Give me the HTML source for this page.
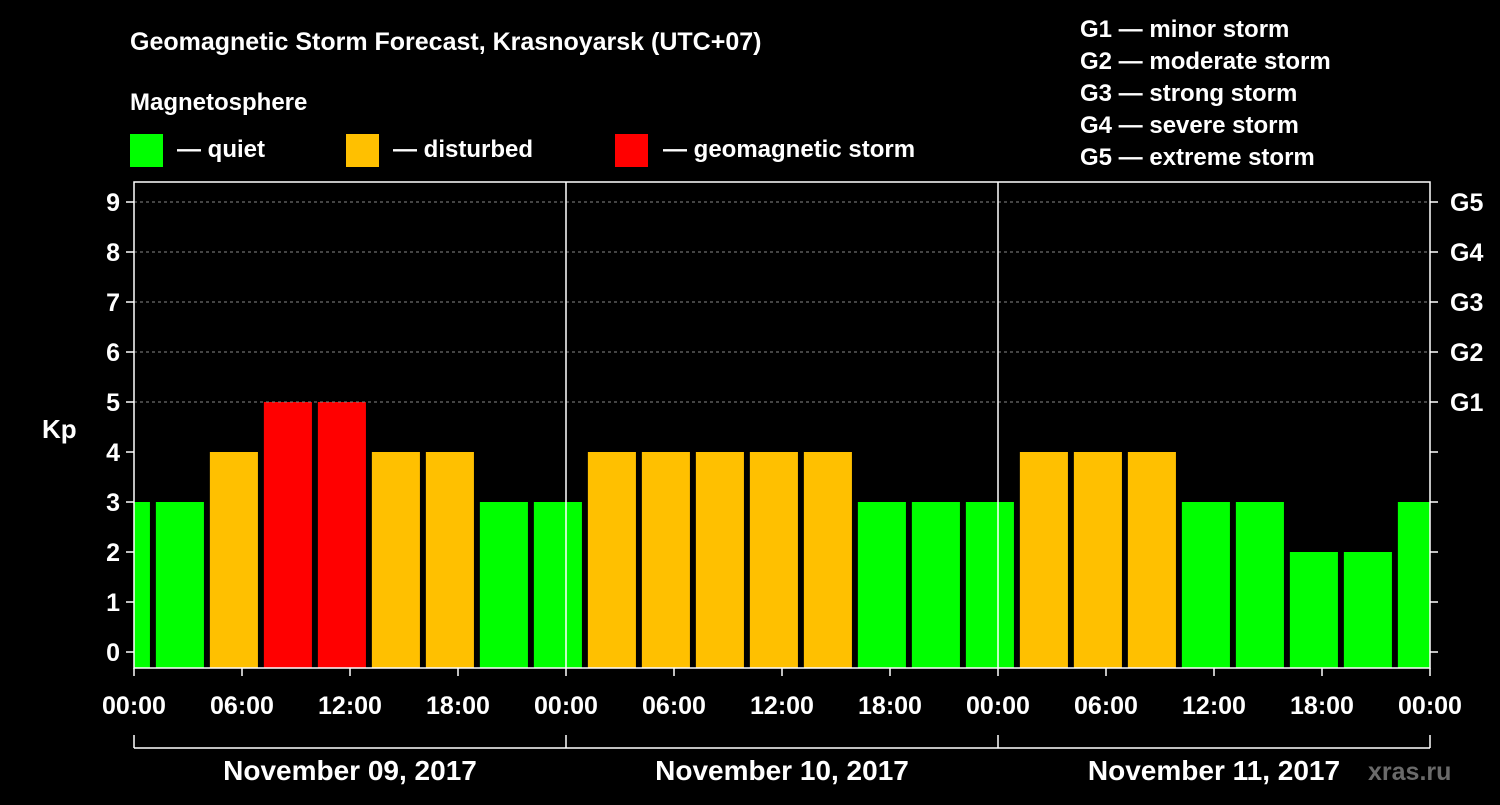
<!DOCTYPE html>
<html><head><meta charset="utf-8"><style>
body{margin:0;background:#000;width:1500px;height:800px;overflow:hidden}
svg text{font-family:"Liberation Sans",Arial,sans-serif;font-weight:bold;fill:#fff}
</style></head><body>
<svg id="chart" width="1500" height="800" viewBox="0 0 1500 800" xmlns="http://www.w3.org/2000/svg">
<rect width="1500" height="800" fill="#000"/>
<text x="130" y="50" font-size="25">Geomagnetic Storm Forecast, Krasnoyarsk (UTC+07)</text>
<text x="130" y="110" font-size="24">Magnetosphere</text>
<g>
<rect x="130" y="134" width="33" height="33" fill="#00ff00"/>
<text x="177" y="157" font-size="24">— quiet</text>
<rect x="346" y="134" width="33" height="33" fill="#ffc000"/>
<text x="393" y="157" font-size="24">— disturbed</text>
<rect x="615" y="134" width="33" height="33" fill="#ff0000"/>
<text x="663" y="157" font-size="24">— geomagnetic storm</text>
</g>
<g font-size="24">
<text x="1080" y="37">G1 — minor storm</text>
<text x="1080" y="69">G2 — moderate storm</text>
<text x="1080" y="101">G3 — strong storm</text>
<text x="1080" y="133">G4 — severe storm</text>
<text x="1080" y="165">G5 — extreme storm</text>
</g>
<g id="plot"></g>
<text x="42" y="438" font-size="26">Kp</text>
<text x="1368" y="780" font-size="25" fill="#666" style="fill:#6a6a6a">xras.ru</text>
</svg>
<script>
const kpValues=[3,3,4,5,5,4,4,3,3,4,4,4,4,4,3,3,3,4,4,4,3,3,2,2,3];
const dayLabels=["November 09, 2017","November 10, 2017","November 11, 2017"];
const yTicks=[0,1,2,3,4,5,6,7,8,9];
const gLabels={5:"G1",6:"G2",7:"G3",8:"G4",9:"G5"};
const timeLabels=["00:00","06:00","12:00","18:00"];
const NS="http://www.w3.org/2000/svg";
const X0=134,X1=1430,YT=182,YB=668,dayW=(X1-X0)/3;
const xH=h=>X0+h*dayW/24;
const yV=v=>652-50*v;
const plot=document.getElementById('plot');
function mk(t,a,p){const e=document.createElementNS(NS,t);for(const k in a)e.setAttribute(k,a[k]);(p||plot).appendChild(e);return e;}
const clip=mk('clipPath',{id:'pc'});mk('rect',{x:X0,y:YT,width:X1-X0,height:YB-YT},clip);
const bars=mk('g',{'clip-path':'url(#pc)'});


kpValues.forEach((v,i)=>{
  const c=xH(-0.45+3*i);const w=xH(2.67)-X0;
  const r=mk('rect',{x:c-w/2,y:yV(v),width:w,height:YB-yV(v),fill:v>=5?'#ff0000':(v>=4?'#ffc000':'#00ff00')},bars);
  
  
});
yTicks.forEach(v=>{
  const y=yV(v);
  if(gLabels[v]){const l=mk('line',{x1:X0,x2:X1,y1:y,y2:y,stroke:'#888','stroke-dasharray':'3,3','stroke-width':1});
    
    
    const g=mk('text',{x:1450,y:y+9,'font-size':25});g.textContent=gLabels[v];
    
    }
  mk('line',{x1:X0-8,x2:X0,y1:y,y2:y,stroke:'#fff','stroke-width':1.5});
  mk('line',{x1:X1,x2:X1+8,y1:y,y2:y,stroke:'#fff','stroke-width':1.5});
  const t=mk('text',{x:X0-14,y:y+9,'font-size':25,'text-anchor':'end'});t.textContent=v;
  
  
});
const frame=mk('rect',{x:X0,y:YT,width:X1-X0,height:YB-YT,fill:'none',stroke:'#fff','stroke-width':1.5});


for(let d=1;d<3;d++){const x=X0+d*dayW;mk('line',{x1:x,x2:x,y1:YT,y2:YB,stroke:'#fff','stroke-width':1.5});}
for(let h=0;h<=72;h+=6){
  const x=xH(h);mk('line',{x1:x,x2:x,y1:YB,y2:YB+8,stroke:'#fff','stroke-width':1.5});
  const t=mk('text',{x:x,y:714,'font-size':25,'text-anchor':'middle'});t.textContent=timeLabels[(h/6)%4];
  
  
}
mk('line',{x1:X0,x2:X1,y1:748,y2:748,stroke:'#fff','stroke-width':1.5});
for(let d=0;d<=3;d++){const x=X0+d*dayW;mk('line',{x1:x,x2:x,y1:735,y2:748,stroke:'#fff','stroke-width':1.5});}
dayLabels.forEach((s,d)=>{const t=mk('text',{x:X0+(d+0.5)*dayW,y:780,'font-size':28,'text-anchor':'middle'});t.textContent=s;
  
  });
</script>
</body></html>
